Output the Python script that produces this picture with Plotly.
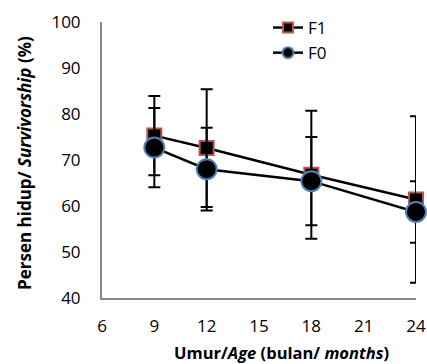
import plotly.graph_objects as go

ages = [9, 12, 18, 24]
f1_vals = [75.3, 72.6, 66.8, 61.4]
f1_err = [8.6, 12.8, 13.9, 18.1]
f0_vals = [72.7, 68.0, 65.4, 58.7]
f0_err = [8.6, 9.0, 9.6, 6.7]
x_ticks = [6, 9, 12, 15, 18, 21, 24]
y_ticks = [40, 50, 60, 70, 80, 90, 100]

FONT = "Open Sans"
W, H = 427, 364
ML, MR, MT, MB = 102, 11, 22, 66
PW, PH = W - ML - MR, H - MT - MB


def px_x(px):
    return (px - ML) / PW


def px_y(py):
    return (H - MB - py) / PH


SQ = dict(symbol="square", color="black", line=dict(color="#C0504D", width=2))
CI = dict(symbol="circle", color="black", line=dict(color="#4F81BD", width=2))

fig = go.Figure()
fig.add_trace(go.Scatter(
    x=ages, y=f1_vals, name="F1", mode="lines+markers", cliponaxis=False,
    showlegend=False,
    line=dict(color="black", width=2.5),
    marker=dict(size=14, **SQ),
    error_y=dict(type="data", array=f1_err, visible=True,
                 color="black", thickness=2, width=6),
))
fig.add_trace(go.Scatter(
    x=ages, y=f0_vals, name="F0", mode="lines+markers", cliponaxis=False,
    showlegend=False,
    line=dict(color="black", width=2.5),
    marker=dict(size=20, **CI),
    error_y=dict(type="data", array=f0_err, visible=True,
                 color="black", thickness=2, width=6),
))
# legend entries with smaller symbols, as in the original
fig.add_trace(go.Scatter(x=[None], y=[None], name="F1", mode="lines+markers",
                         line=dict(color="black", width=2.5),
                         marker=dict(size=10, **SQ)))
fig.add_trace(go.Scatter(x=[None], y=[None], name="F0", mode="lines+markers",
                         line=dict(color="black", width=2.5),
                         marker=dict(size=11, **CI)))

fig.update_layout(
    width=W, height=H,
    margin=dict(l=ML, r=MR, t=MT, b=MB, autoexpand=False),
    paper_bgcolor="white", plot_bgcolor="white",
    font=dict(family=FONT, size=17, color="black"),
    showlegend=True,
    legend=dict(x=px_x(268), y=px_y(10), xanchor="left", yanchor="top",
                bgcolor="rgba(0,0,0,0)", font=dict(size=17),
                tracegroupgap=0),
    xaxis=dict(range=[6, 24], tickvals=x_ticks, showgrid=False,
               zeroline=False, showline=True, linecolor="#868686",
               linewidth=2, ticks="", ticklabelstandoff=12, automargin=False),
    yaxis=dict(range=[40, 100], tickvals=y_ticks, showgrid=False,
               zeroline=False, showline=True, linecolor="#868686",
               linewidth=2, ticks="", ticklabelstandoff=16, automargin=False),
    annotations=[
        dict(text="<b>Umur/<i>Age</i> (bulan/ <i>months</i>)</b>",
             x=px_x(281), y=px_y(352), xref="paper", yref="paper",
             xanchor="center", yanchor="middle", showarrow=False,
             font=dict(size=16.5)),
        dict(text="<b>Persen hidup/ <i>Survivorship</i> (%)</b>",
             x=px_x(24), y=px_y(163), xref="paper", yref="paper",
             xanchor="center", yanchor="middle", showarrow=False,
             textangle=-90, font=dict(size=17)),
    ],
)

fig.write_html("out.html")
